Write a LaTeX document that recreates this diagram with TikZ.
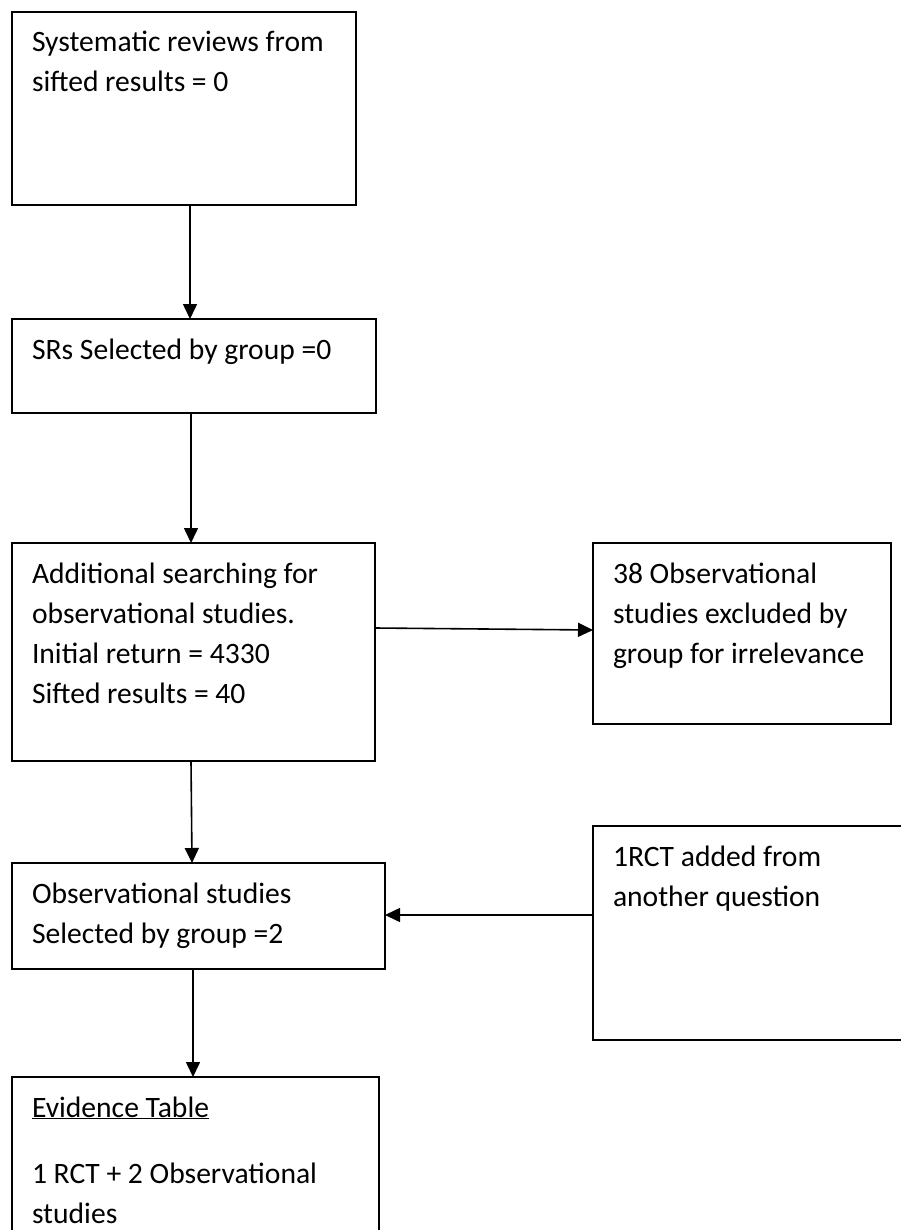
\documentclass[tikz,border=0pt]{standalone}
\usepackage{fontspec}
\setmainfont{Carlito}
\usetikzlibrary{arrows.meta,positioning}

\begin{document}
\begin{tikzpicture}[x=1pt,y=1pt,
  box/.style={draw,rectangle,line width=2pt,outer sep=0pt,anchor=north west,align=flush left,inner xsep=20pt,inner ysep=20pt,text height=20pt,font=\fontsize{29.6pt}{40pt}\selectfont},
  arr/.style={-{Triangle[length=15pt,width=14pt]},line width=1.6pt}
]
\useasboundingbox (0,0) rectangle (901,-1230);

% Systematic reviews
\node[box,text width=304pt,text depth=133pt] (sr) at (12,-12) {Systematic reviews from\\sifted results = 0};

% SRs selected
\node[box,below=114pt of sr.south west,anchor=north west,text width=324pt,text depth=34pt] (srsel) {SRs Selected by group =0};

% Additional searching
\node[box,below=130pt of srsel.south west,anchor=north west,text width=323pt,text depth=158pt] (addsearch) {Additional searching for\\observational studies.\\Initial return = 4330\\Sifted results = 40};

% Excluded studies
\node[box,right=218pt of addsearch.north east,anchor=north west,text width=258pt,text depth=121pt] (excl) {38 Observational\\studies excluded by\\group for irrelevance};

% Observational studies selected
\node[box,below=102pt of addsearch.south west,anchor=north west,text width=333pt,text depth=46pt] (obssel) {Observational studies\\Selected by group =2};

% RCT from another question
\node[box,below=102pt of excl.south west,anchor=north west,text width=280pt,text depth=154pt] (rct) {1RCT added from\\another question};

% Evidence table
\node[box,below=108pt of obssel.south west,anchor=north west,text width=327pt,text depth=140pt] (evid) {\underline{Evidence Table}\\[26pt]1 RCT + 2 Observational\\studies};

% Arrows
\draw[arr] ([xshift=6pt]sr.south) -- ([xshift=-4pt]srsel.north);
\draw[arr] ([xshift=-3pt]srsel.south) -- ([xshift=-2.5pt]addsearch.north);
\draw[arr] ([yshift=24pt]addsearch.east) -- ([yshift=3.5pt]excl.west);
\draw[arr] ([xshift=-2.5pt]addsearch.south) -- ([xshift=-6.5pt]obssel.north);
\draw[arr] ([yshift=18pt]rct.west) -- ([yshift=1pt]obssel.east);
\draw[arr] ([xshift=-5.5pt]obssel.south) -- ([xshift=-2.5pt]evid.north);

\end{tikzpicture}
\end{document}
